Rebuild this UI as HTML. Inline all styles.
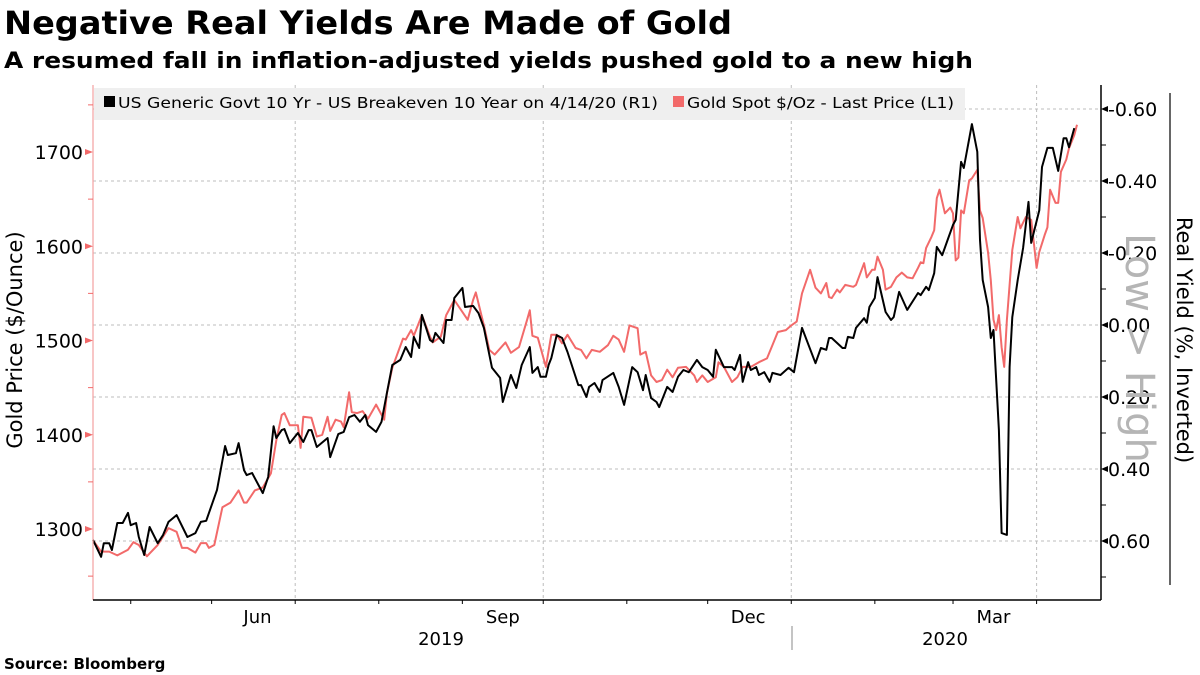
<!DOCTYPE html>
<html><head><meta charset="utf-8">
<style>
html,body{margin:0;padding:0;background:#fff;}
svg{display:block;font-family:"DejaVu Sans","Liberation Sans",sans-serif;}
</style></head>
<body>
<svg id="chart" width="1200" height="675" viewBox="0 0 1200 675" xmlns="http://www.w3.org/2000/svg">
<text x="4" y="34" font-size="32" font-weight="bold" textLength="728" lengthAdjust="spacingAndGlyphs">Negative Real Yields Are Made of Gold</text>
<text x="4" y="68" font-size="22" font-weight="bold" textLength="969" lengthAdjust="spacingAndGlyphs">A resumed fall in inflation-adjusted yields pushed gold to a new high</text>
<g id="grid"></g>
<rect x="94" y="88" width="871" height="32" fill="#efefef"/>
<g id="series"></g>
<g id="axes"></g>
<g>
<rect x="104" y="96" width="11" height="11" fill="#000"/>
<text x="118" y="108" font-size="15" textLength="540" lengthAdjust="spacingAndGlyphs">US Generic Govt 10 Yr - US Breakeven 10 Year on 4/14/20 (R1)</text>
<rect x="673" y="96" width="11" height="11" fill="#f26a6a"/>
<text x="687" y="108" font-size="15" textLength="267" lengthAdjust="spacingAndGlyphs">Gold Spot $/Oz - Last Price (L1)</text>
</g>
<text transform="translate(22,340) rotate(-90)" text-anchor="middle" font-size="21">Gold Price ($/Ounce)</text>
<text transform="translate(1177,340) rotate(90)" text-anchor="middle" font-size="21">Real Yield (%, Inverted)</text>
<text transform="translate(1126,348) rotate(90)" text-anchor="middle" font-size="40" fill="#b5b5b5">Low &gt; High</text>
<line x1="1170" y1="93" x2="1170" y2="585" stroke="#000" stroke-width="1.2"/>
<text x="441" y="645" text-anchor="middle" font-size="18">2019</text>
<text x="945" y="645" text-anchor="middle" font-size="18">2020</text>
<line x1="792" y1="626" x2="792" y2="650" stroke="#888" stroke-width="1"/>
<text x="4" y="669" font-size="15" font-weight="bold">Source: Bloomberg</text>
</svg>
<script>
// days since 2019-04-17
const yieldDays = [0,3,4,6,7,9,11,13,14,16,17,19,21,24,26,28,31,35,38,40,42,46,49,50,53,54,56,57,59,63,65,67,68,70,71,73,76,78,80,81,83,87,88,91,93,95,97,99,101,102,105,107,109,111,114,116,118,119,121,122,125,126,127,130,131,133,134,137,138,141,143,145,148,151,152,155,157,159,162,163,165,166,168,169,170,172,174,176,180,181,183,184,186,188,189,193,195,197,200,202,204,205,207,209,210,213,215,217,219,221,224,226,228,230,231,234,237,238,240,241,243,244,246,247,249,251,252,255,258,260,263,268,270,272,273,274,278,279,280,282,283,286,287,288,290,291,294,296,297,299,302,306,307,309,310,312,313,315,317,319,320,322,323,326,328,329,330,332,333,334,336,337,339,340,341,343,345,347,348,351,352,354,356,358,360,361,362,364];
const yieldValues = [0.597,0.644,0.606,0.606,0.625,0.550,0.550,0.522,0.556,0.550,0.589,0.639,0.561,0.606,0.583,0.547,0.528,0.589,0.578,0.547,0.544,0.458,0.336,0.361,0.356,0.328,0.403,0.417,0.411,0.467,0.422,0.281,0.314,0.292,0.289,0.328,0.300,0.325,0.292,0.292,0.339,0.314,0.367,0.303,0.297,0.256,0.250,0.269,0.250,0.278,0.297,0.269,0.189,0.111,0.097,0.061,0.089,0.033,0.064,-0.028,0.042,0.047,0.022,0.050,-0.014,-0.014,-0.075,-0.103,-0.050,-0.053,-0.033,0.008,0.119,0.147,0.214,0.139,0.175,0.111,0.061,0.133,0.117,0.144,0.144,0.111,0.092,0.028,0.036,0.075,0.167,0.167,0.200,0.172,0.161,0.186,0.153,0.133,0.172,0.222,0.117,0.131,0.181,0.139,0.203,0.214,0.228,0.172,0.186,0.144,0.125,0.131,0.097,0.117,0.125,0.144,0.069,0.117,0.117,0.125,0.083,0.158,0.103,0.125,0.117,0.139,0.131,0.158,0.133,0.139,0.119,0.131,0.008,0.106,0.064,0.069,0.036,0.036,0.064,0.064,0.033,0.036,0.008,-0.019,-0.006,-0.050,-0.075,-0.133,-0.036,-0.014,-0.022,-0.092,-0.042,-0.089,-0.083,-0.106,-0.097,-0.144,-0.217,-0.194,-0.236,-0.278,-0.292,-0.453,-0.436,-0.558,-0.481,-0.236,-0.125,-0.050,0.036,0.014,0.292,0.578,0.583,0.117,-0.022,-0.125,-0.214,-0.342,-0.228,-0.319,-0.439,-0.492,-0.492,-0.428,-0.519,-0.519,-0.494,-0.547];
const goldDays = [0,3,6,9,13,15,17,20,24,28,31,33,35,38,40,42,43,45,48,51,54,56,57,60,63,66,68,70,71,73,76,77,78,81,83,85,87,88,90,92,93,95,96,98,100,102,105,108,109,111,115,116,118,119,122,125,126,129,131,134,139,141,142,145,147,149,153,155,158,161,162,163,165,168,170,172,174,176,179,181,183,185,188,191,193,195,197,199,202,203,205,207,209,211,213,215,217,220,223,224,226,228,231,232,234,237,239,241,244,247,250,252,254,257,259,261,263,266,268,270,272,273,274,276,277,279,282,283,286,287,289,290,291,293,294,296,298,300,302,304,306,307,308,309,311,312,313,314,316,318,319,320,321,322,323,325,326,328,329,330,332,333,334,335,336,337,338,339,341,343,344,346,348,349,350,351,353,354,355,357,358,359,361,362,364,365];
const goldValues = [1288,1276,1276,1272,1278,1286,1283,1271,1283,1301,1297,1280,1280,1275,1285,1285,1280,1283,1323,1328,1341,1328,1328,1341,1344,1359,1394,1421,1423,1410,1410,1386,1419,1418,1398,1400,1419,1404,1416,1414,1408,1445,1424,1423,1425,1417,1432,1416,1444,1471,1502,1501,1511,1505,1527,1504,1498,1504,1527,1543,1522,1543,1551,1516,1490,1485,1498,1487,1493,1522,1532,1505,1503,1472,1506,1506,1497,1506,1492,1490,1481,1490,1488,1495,1505,1501,1488,1516,1513,1485,1488,1463,1456,1458,1469,1461,1471,1472,1463,1456,1463,1456,1461,1477,1472,1456,1461,1472,1472,1477,1481,1495,1509,1511,1516,1520,1550,1575,1556,1550,1561,1546,1545,1554,1551,1559,1557,1559,1582,1567,1575,1575,1589,1575,1554,1557,1567,1572,1567,1566,1577,1583,1582,1598,1610,1617,1651,1660,1635,1641,1635,1585,1588,1638,1635,1670,1672,1681,1638,1630,1593,1564,1522,1511,1527,1493,1472,1522,1596,1631,1619,1631,1628,1603,1577,1594,1612,1620,1660,1646,1646,1679,1692,1704,1718,1729];
const goldTicks = [1300,1400,1500,1600,1700];
const goldMinorTicks = [1250,1350,1450,1550,1650,1750];
const yieldTicks = [-0.6,-0.4,-0.2,0.0,0.2,0.4,0.6];
const yieldTickLabels = ["-0.60","-0.40","-0.20","0.00","0.20","0.40","0.60"];
const yieldMinorTicks = [-0.5,-0.3,-0.1,0.1,0.3,0.5,0.7];
const monthLabels = ["Jun","Sep","Dec","Mar"];
const monthLabelDays = [61,152,243,334];
const monthTickDays = [14,44,75,106,137,167,198,228,259,290,319,350];
const quarterDays = [75,167,259,350];

const X0=93, X1=1101, PXD=2.696, YT=85, YB=600;
const xOf = d => X0 + d*PXD;
const yGold = v => 529 - (v-1300)*0.9425;
const yYield = v => 325 + v*360;
const NS="http://www.w3.org/2000/svg";
function mk(tag, attrs, parent){const e=document.createElementNS(NS,tag);for(const k in attrs)e.setAttribute(k,attrs[k]);parent.appendChild(e);return e;}
const grid=document.getElementById('grid'), axes=document.getElementById('axes'), series=document.getElementById('series');

yieldTicks.forEach(v=>{
  const l=mk('line',{x1:X0,x2:X1,y1:yYield(v),y2:yYield(v),stroke:'#bdbdbd','stroke-width':1,'stroke-dasharray':'3,3'},grid);
  
  
});
quarterDays.forEach(d=>{
  const l=mk('line',{x1:xOf(d),x2:xOf(d),y1:YT,y2:YB,stroke:'#bdbdbd','stroke-width':1,'stroke-dasharray':'3,3'},grid);
  
  
});

function path(days, vals, yf){return days.map((d,i)=>(i?'L':'M')+xOf(d).toFixed(1)+','+yf(vals[i]).toFixed(1)).join('');}
const pg=mk('path',{d:path(goldDays,goldValues,yGold),fill:'none',stroke:'#f26a6a','stroke-width':2,'stroke-linejoin':'round'},series);


const py=mk('path',{d:path(yieldDays,yieldValues,yYield),fill:'none',stroke:'#000','stroke-width':2,'stroke-linejoin':'round'},series);



// left axis
const la=mk('line',{x1:X0,x2:X0,y1:YT,y2:YB,stroke:'#f4a0a0','stroke-width':1.2},axes);


goldTicks.forEach(v=>{
  const y=yGold(v);
  const t=mk('path',{d:`M${X0-8},${y-3}L${X0},${y}L${X0-8},${y+3}Z`,fill:'#f26a6a'},axes);
  
  
  const tx=mk('text',{x:X0-10,y:y+7,'text-anchor':'end','font-size':19},axes);
  tx.textContent=v;
  
  
});
goldMinorTicks.forEach(v=>{
  const y=yGold(v); if(y<YT||y>YB) return;
  const t=mk('line',{x1:X0-5,x2:X0,y1:y,y2:y,stroke:'#f26a6a','stroke-width':1},axes);
  
  
});
// right axis
const ra=mk('line',{x1:X1,x2:X1,y1:YT,y2:YB,stroke:'#000','stroke-width':1.5},axes);


yieldTicks.forEach((v,i)=>{
  const y=yYield(v);
  const t=mk('path',{d:`M${X1},${y}L${X1+7},${y-3}L${X1+7},${y+3}Z`,fill:'#000'},axes);
  
  
  const tx=mk('text',{x:X1+7,y:y+7,'font-size':19},axes);
  tx.textContent=yieldTickLabels[i];
  
  
});
yieldMinorTicks.forEach(v=>{
  const y=yYield(v); if(y<YT||y>YB) return;
  const t=mk('line',{x1:X1,x2:X1+5,y1:y,y2:y,stroke:'#000','stroke-width':1},axes);
  
  
});
// bottom axis
const ba=mk('line',{x1:X0,x2:X1,y1:YB,y2:YB,stroke:'#000','stroke-width':1.5},axes);


monthTickDays.forEach(d=>{
  const t=mk('line',{x1:xOf(d),x2:xOf(d),y1:YB,y2:YB+4,stroke:'#000','stroke-width':1},axes);
  
  
});
monthLabels.forEach((m,i)=>{
  const tx=mk('text',{x:xOf(monthLabelDays[i]),y:623,'text-anchor':'middle','font-size':18},axes);
  tx.textContent=m;
  
  
});
</script>
</body></html>
